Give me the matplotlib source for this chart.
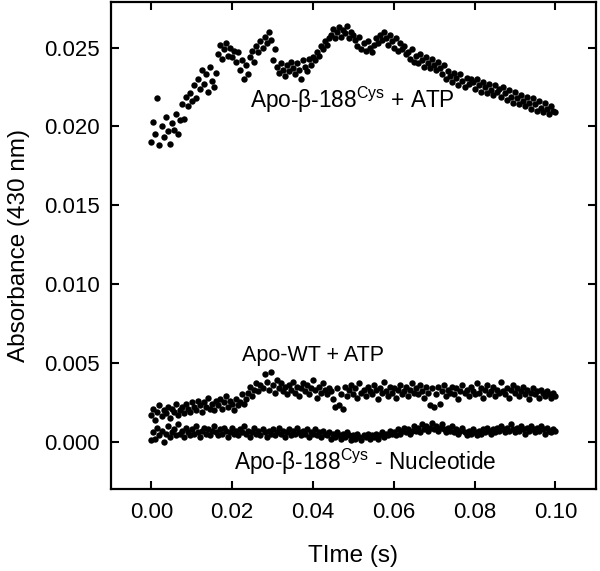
import numpy as np
import matplotlib
matplotlib.use("Agg")
import matplotlib.pyplot as plt

plt.rcParams['font.family'] = ['Liberation Sans', 'DejaVu Sans']
plt.rcParams['mathtext.fontset'] = 'custom'
plt.rcParams['mathtext.rm'] = 'Liberation Sans'

# Apo-beta-188Cys + ATP, one value every 0.5 ms from 0 to 0.1 s
beta_atp = [
    0.0190, 0.0203, 0.0195, 0.0218, 0.0188, 0.0200, 0.0193, 0.0206, 0.0197, 0.0189,
    0.0202, 0.0198, 0.0208, 0.0195, 0.0204,
    0.0214, 0.0205, 0.0219, 0.0213, 0.0221, 0.0216, 0.0226, 0.0218,
    0.0230, 0.0224, 0.0236, 0.0227, 0.0233, 0.0222, 0.0238, 0.0229, 0.0225, 0.0234,
    0.0246, 0.0252, 0.0243, 0.0249, 0.0253, 0.0245, 0.0250, 0.0244, 0.0248, 0.0241, 0.0247,
    0.0236, 0.0242, 0.0230, 0.0239, 0.0233,
    0.0244, 0.0248, 0.0241, 0.0251, 0.0247, 0.0254, 0.0250, 0.0257, 0.0253, 0.0260,
    0.0255, 0.0242, 0.0249,
    0.0238, 0.0234, 0.0240, 0.0236, 0.0232, 0.0239, 0.0235, 0.0241, 0.0237, 0.0233,
    0.0240, 0.0236, 0.0230, 0.0242, 0.0238, 0.0235, 0.0243, 0.0239, 0.0244,
    0.0242, 0.0247, 0.0245, 0.0251, 0.0249, 0.0254, 0.0252, 0.0256,
    0.0258, 0.0262, 0.0256, 0.0260, 0.0263, 0.0257, 0.0261, 0.0259, 0.0264, 0.0256,
    0.0260, 0.0258,
    0.0255, 0.0251, 0.0257, 0.0249, 0.0253, 0.0248, 0.0254, 0.0250, 0.0247, 0.0252,
    0.0256, 0.0253,
    0.0258, 0.0255, 0.0260, 0.0256, 0.0252, 0.0258, 0.0254, 0.0250, 0.0256, 0.0248,
    0.0253, 0.0249, 0.0251, 0.0246,
    0.0247, 0.0243, 0.0249, 0.0241, 0.0245, 0.0240, 0.0246, 0.0242, 0.0238, 0.0244,
    0.0240, 0.0237, 0.0243, 0.0239, 0.0236, 0.0241,
    0.0237, 0.0233, 0.0239, 0.0230, 0.0235, 0.0232, 0.0228, 0.0234, 0.0231, 0.0226,
    0.0233, 0.0229, 0.0225, 0.0231, 0.0227, 0.0230,
    0.0228, 0.0224, 0.0230, 0.0226, 0.0222, 0.0228, 0.0225, 0.0221, 0.0227, 0.0223,
    0.0220, 0.0226, 0.0222, 0.0224, 0.0219, 0.0225,
    0.0221, 0.0217, 0.0223, 0.0219, 0.0215, 0.0222, 0.0218, 0.0214, 0.0220, 0.0216,
    0.0213, 0.0219, 0.0215, 0.0211, 0.0218, 0.0214, 0.0210, 0.0216, 0.0212, 0.0209,
    0.0215, 0.0211, 0.0208, 0.0213, 0.0210, 0.0209,
]

# Apo-WT + ATP
wt_atp = [
    0.0017, 0.0021, 0.0014, 0.0019, 0.0023, 0.0016, 0.0020, 0.0018, 0.0022, 0.0015,
    0.0021, 0.0019, 0.0024, 0.0017, 0.0020,
    0.0022, 0.0018, 0.0024, 0.0021, 0.0019, 0.0025, 0.0022, 0.0020, 0.0026, 0.0023,
    0.0019, 0.0025, 0.0022, 0.0028, 0.0021, 0.0024, 0.0020, 0.0026, 0.0023, 0.0027,
    0.0021, 0.0025, 0.0029, 0.0022, 0.0026, 0.0024, 0.0020, 0.0027, 0.0023, 0.0025,
    0.0030, 0.0024, 0.0027,
    0.0031, 0.0035, 0.0029, 0.0033, 0.0037, 0.0032, 0.0036, 0.0034, 0.0043, 0.0038,
    0.0033, 0.0044, 0.0036, 0.0031, 0.0039, 0.0034, 0.0037, 0.0032, 0.0035, 0.0030,
    0.0036, 0.0033, 0.0038, 0.0031, 0.0035, 0.0029, 0.0034, 0.0037, 0.0032, 0.0036,
    0.0030, 0.0034, 0.0039, 0.0033, 0.0028, 0.0035, 0.0031, 0.0037, 0.0033, 0.0030,
    0.0034,
    0.0032, 0.0027, 0.0022, 0.0034, 0.0023, 0.0030, 0.0021, 0.0035, 0.0029, 0.0033,
    0.0036, 0.0030, 0.0034, 0.0028, 0.0037, 0.0031, 0.0033, 0.0029, 0.0035, 0.0032,
    0.0030, 0.0036, 0.0033, 0.0027, 0.0034, 0.0031, 0.0038, 0.0032, 0.0029, 0.0035,
    0.0031, 0.0034, 0.0028, 0.0033, 0.0036, 0.0030, 0.0032, 0.0035, 0.0029, 0.0033,
    0.0037, 0.0031, 0.0034, 0.0030, 0.0036, 0.0032, 0.0028, 0.0035, 0.0031, 0.0023,
    0.0034, 0.0022, 0.0030, 0.0035, 0.0024, 0.0032, 0.0036, 0.0029, 0.0033, 0.0031,
    0.0035, 0.0030, 0.0034, 0.0027, 0.0032, 0.0036, 0.0031, 0.0033, 0.0029, 0.0035,
    0.0032, 0.0030, 0.0037, 0.0031, 0.0034, 0.0028, 0.0033, 0.0036, 0.0030, 0.0032,
    0.0035, 0.0029, 0.0033, 0.0031, 0.0038, 0.0032, 0.0030, 0.0034, 0.0028, 0.0033,
    0.0036, 0.0031, 0.0034, 0.0029, 0.0032, 0.0035, 0.0030, 0.0033, 0.0027, 0.0031,
    0.0034, 0.0030, 0.0032, 0.0028, 0.0033, 0.0031, 0.0029, 0.0032, 0.0030, 0.0028,
    0.0031, 0.0029,
]

# Apo-beta-188Cys without nucleotide
beta_none = [
    0.0001, 0.0006, 0.0002, 0.0009, 0.0004, 0.0007, 0.0000, 0.0005, 0.0010, 0.0003,
    0.0006, 0.0008, 0.0004, 0.0011, 0.0005, 0.0007, 0.0003, 0.0009, 0.0006, 0.0004,
    0.0008, 0.0005, 0.0010, 0.0006, 0.0003, 0.0007, 0.0009, 0.0005, 0.0008, 0.0004,
    0.0007, 0.0010, 0.0006, 0.0004, 0.0008, 0.0005, 0.0009, 0.0007, 0.0003, 0.0006,
    0.0009, 0.0005, 0.0007, 0.0004, 0.0008, 0.0006, 0.0010, 0.0005, 0.0007, 0.0003,
    0.0006, 0.0009, 0.0005, 0.0007, 0.0004, 0.0008, 0.0006, 0.0003, 0.0007, 0.0005,
    0.0008, 0.0004, 0.0006, 0.0009, 0.0005, 0.0007, 0.0003, 0.0006, 0.0008, 0.0004,
    0.0007, 0.0005, 0.0009, 0.0006, 0.0004, 0.0007, 0.0005, 0.0008, 0.0003, 0.0006,
    0.0005, 0.0008, 0.0004, 0.0006, 0.0003, 0.0007, 0.0005, 0.0004, 0.0006, 0.0002,
    0.0005, 0.0003, 0.0006, 0.0004, 0.0002, 0.0005, 0.0003, 0.0006, 0.0004, 0.0001,
    0.0004, 0.0002, 0.0005, 0.0003, 0.0001, 0.0004, 0.0003, 0.0005, 0.0002, 0.0004,
    0.0003, 0.0005, 0.0002, 0.0004, 0.0006, 0.0003, 0.0005, 0.0004, 0.0007, 0.0005,
    0.0006, 0.0004, 0.0008, 0.0005, 0.0007, 0.0009, 0.0006, 0.0008, 0.0005, 0.0007,
    0.0010, 0.0007, 0.0009, 0.0006, 0.0011, 0.0008, 0.0010, 0.0007, 0.0009, 0.0012,
    0.0008, 0.0010, 0.0007, 0.0009, 0.0011, 0.0008, 0.0006, 0.0009, 0.0007, 0.0010,
    0.0006, 0.0008, 0.0005, 0.0007, 0.0009, 0.0006, 0.0004, 0.0007, 0.0005, 0.0008,
    0.0006, 0.0004, 0.0007, 0.0005, 0.0008, 0.0006, 0.0009, 0.0007, 0.0005, 0.0008,
    0.0006, 0.0009, 0.0007, 0.0010, 0.0008, 0.0006, 0.0009, 0.0007, 0.0011, 0.0008,
    0.0006, 0.0009, 0.0007, 0.0010, 0.0008, 0.0005, 0.0009, 0.0007, 0.0010, 0.0008,
    0.0006, 0.0009, 0.0007, 0.0010, 0.0008, 0.0005, 0.0009, 0.0007, 0.0006, 0.0008,
    0.0007,
]

x_ticks = [0.00, 0.02, 0.04, 0.06, 0.08, 0.10]
y_ticks = [0.000, 0.005, 0.010, 0.015, 0.020, 0.025]

fig = plt.figure(figsize=(6, 5.71), dpi=100)
ax = fig.add_axes([0.185, 0.1436, 0.808, 0.853])

for y in (beta_atp, wt_atp, beta_none):
    t = np.linspace(0, 0.1, len(y))
    ax.plot(t, y, 'o', color='black', ms=4.6, mew=0)

ax.set_xlim(-0.01, 0.11)
ax.set_ylim(-0.003, 0.0279)
ax.set_xticks(x_ticks)
ax.set_xticklabels(["{:.2f}".format(v) for v in x_ticks])
ax.set_yticks(y_ticks)
ax.set_yticklabels(["{:.3f}".format(v) for v in y_ticks])
ax.tick_params(direction='in', length=6, width=1.5, top=True, right=True,
               labelsize=16, color='black')
ax.tick_params(axis='x', pad=9)
ax.tick_params(axis='y', pad=8)
for s in ax.spines.values():
    s.set_linewidth(1.6)

ax.set_xlabel("TIme (s)", fontsize=17.5, labelpad=16)
ax.set_ylabel("Absorbance (430 nm)", fontsize=17.5, labelpad=10)

ax.text(0.0498, 0.0217, "Apo-\u03b2-188$^{\\mathregular{Cys}}$ + ATP",
        fontsize=16.3, ha='center', va='center')
ax.text(0.0400, 0.00546, "Apo-WT + ATP", fontsize=15.5, ha='center', va='center')
ax.text(0.0528, -0.0013, "Apo-\u03b2-188$^{\\mathregular{Cys}}$ - Nucleotide",
        fontsize=16.3, ha='center', va='center')

fig.savefig("out.png", dpi=100)
